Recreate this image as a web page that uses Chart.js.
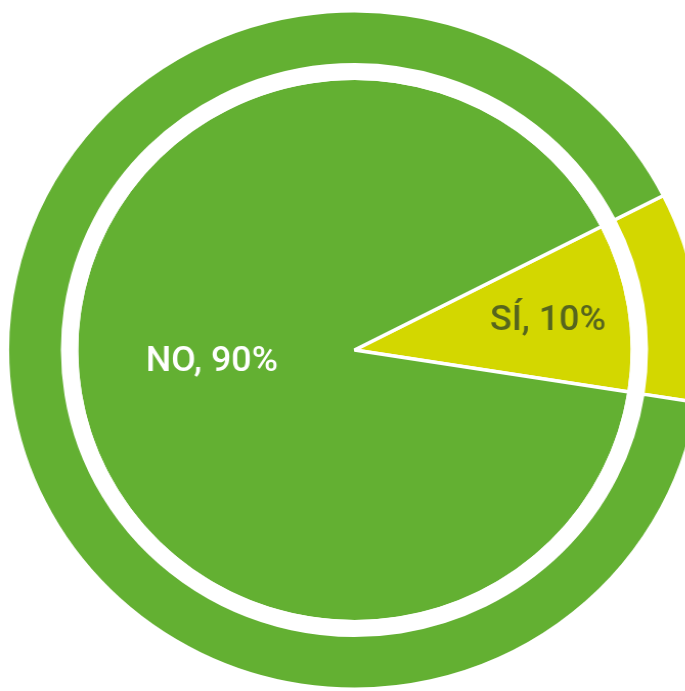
<!DOCTYPE html>
<html><head><meta charset="utf-8">
<script src="https://cdn.jsdelivr.net/npm/chart.js@4"></script>
<style>
html,body{margin:0;padding:0;background:#fff;overflow:hidden;width:685px;height:691px;}
#wrap{position:absolute;left:0;top:0;width:693px;height:700px;transform:scaleX(1.023);transform-origin:0 0;}
canvas{display:block;}
</style></head><body>
<div id="wrap"><canvas id="c" width="693" height="700" style="width:693px;height:700px"></canvas></div>
<script>
const categories = ['SÍ', 'NO'];
const values = [10, 90];
const labelTexts = ['SÍ, 10%', 'NO, 90%'];
const sliceColors = ['#d3d700', '#63b032'];
const labelColors = ['#56651e', '#ffffff'];

const labelPlugin = {
  id: 'sliceLabels',
  afterDatasetsDraw(chart, args, opts) {
    const meta = chart.getDatasetMeta(2);
    const ctx = chart.ctx;
    meta.data.forEach((arc, i) => {
      const p = arc.getProps(['x','y','startAngle','endAngle','outerRadius'], true);
      const a = (p.startAngle + p.endAngle) / 2 + opts.angleShift[i] * Math.PI / 180;
      const r = p.outerRadius * opts.radiusFraction[i];
      const x = p.x + Math.cos(a) * r, y = p.y + Math.sin(a) * r;
      ctx.save();
      ctx.font = opts.weight + ' ' + opts.size + 'px Roboto, sans-serif';
      ctx.fillStyle = labelColors[i];
      ctx.textAlign = 'center';
      ctx.textBaseline = 'alphabetic';
      ctx.fillText(labelTexts[i], x, y + opts.size * 0.355);
      ctx.restore();
    });
  }
};

new Chart(document.getElementById('c'), {
  type: 'doughnut',
  data: {
    labels: categories,
    datasets: [
      { data: values, backgroundColor: sliceColors, borderColor: '#ffffff', borderWidth: 3.5, weight: 54 },
      { data: values, backgroundColor: ['#ffffff', '#ffffff'], borderColor: '#ffffff', borderWidth: 3.5, weight: 13.5 },
      { data: values, backgroundColor: sliceColors, borderColor: '#ffffff', borderWidth: 3.5, weight: 271.75 }
    ]
  },
  options: {
    responsive: false,
    devicePixelRatio: 1,
    animation: false,
    cutout: 0,
    radius: 339.25,
    rotation: 62.9,
    layout: { padding: 0 },
    plugins: {
      legend: { display: false },
      tooltip: { enabled: false },
      sliceLabels: { size: 35, weight: 500, radiusFraction: [0.706, 0.514], angleShift: [-0.6, 5.4] }
    }
  },
  plugins: [labelPlugin]
});
</script>
</body></html>
